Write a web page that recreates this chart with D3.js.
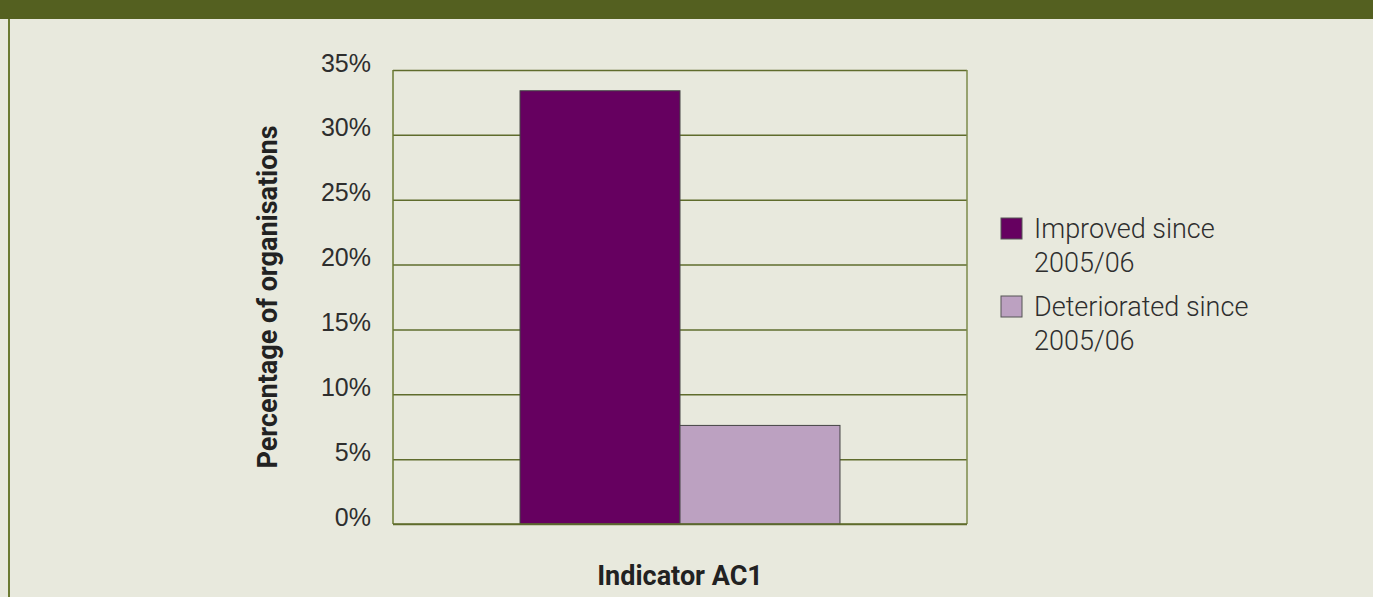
<!DOCTYPE html>
<html>
<head>
<meta charset="utf-8">
<script src="https://cdn.jsdelivr.net/npm/d3@7"></script>
<style>
  body { margin: 0; background: #e8e9dd; }
  svg { display: block; font-family: Roboto, sans-serif; }
</style>
</head>
<body>
<svg id="chart"></svg>
<script>
let categories = ['Indicator AC1']
let seriesNames = ['Improved since 2005/06', 'Deteriorated since 2005/06']
let legendLines = [['Improved since', '2005/06'], ['Deteriorated since', '2005/06']]
let seriesValues = [33.4, 7.6]
let yTicks = [0, 5, 10, 15, 20, 25, 30, 35]
let colors = ['#660060', '#bca1c1']

let width = 1373
let height = 597
let plotLeft = 393
let plotRight = 967
let plotTop = 70
let plotBottom = 524

let svg = d3.select('#chart')
  .attr('width', width)
  .attr('height', height)

// background, banner and left rule
svg.append('rect').attr('width', width).attr('height', height).attr('fill', '#e8e9dd')
svg.append('rect').attr('width', width).attr('height', 19).attr('fill', '#546020')
svg.append('line')
  .attr('x1', 9).attr('x2', 9).attr('y1', 19).attr('y2', height)
  .attr('stroke', '#6b7a32').attr('stroke-width', 2)

let yScale = d3.scaleLinear()
  .domain([0, 35])
  .range([plotBottom, plotTop])

let xScale = d3.scaleBand()
  .domain(categories)
  .range([plotLeft, plotRight])
  .paddingInner(0)
  .paddingOuter(0.397)

let seriesScale = d3.scaleBand()
  .domain(seriesNames)
  .range([0, xScale.bandwidth()])

// gridlines
let yAxis = d3.axisLeft(yScale)
  .tickValues(yTicks)
  .tickSize(-(plotRight - plotLeft))
  .tickFormat(d => d + '%')

let gAxis = svg.append('g')
  .attr('transform', 'translate(' + plotLeft + ',0)')
  .call(yAxis)

gAxis.select('.domain').remove()
gAxis.selectAll('.tick line')
  .attr('stroke', '#5f6c2c')
  .attr('stroke-width', 1.5)
gAxis.selectAll('.tick text')
  .attr('x', -22)
  .attr('dy', '0')
  .attr('y', 1)
  .attr('fill', '#2e2e2e')
  .style('font-size', '25px')
  .style('font-weight', 300)

// frame
svg.append('line')
  .attr('x1', plotLeft).attr('x2', plotLeft).attr('y1', plotTop).attr('y2', plotBottom)
  .attr('stroke', '#6b7a32').attr('stroke-width', 1.5)
svg.append('line')
  .attr('x1', plotRight).attr('x2', plotRight).attr('y1', plotTop).attr('y2', plotBottom)
  .attr('stroke', '#7d8a4a').attr('stroke-width', 1.5)

// bars
svg.selectAll('rect.bar')
  .data(seriesValues)
  .enter()
  .append('rect')
  .attr('class', 'bar')
  .attr('x', (d, i) => xScale(categories[0]) + seriesScale(seriesNames[i]))
  .attr('width', seriesScale.bandwidth())
  .attr('y', d => yScale(d))
  .attr('height', d => yScale(0) - yScale(d))
  .attr('fill', (d, i) => colors[i])
  .attr('stroke', '#444')
  .attr('stroke-width', 1)

// baseline
svg.append('line')
  .attr('x1', plotLeft).attr('x2', plotRight).attr('y1', plotBottom).attr('y2', plotBottom)
  .attr('stroke', '#5f6c2c').attr('stroke-width', 1.5)

// axis titles
svg.append('text')
  .attr('transform', 'translate(277,' + ((plotTop + plotBottom) / 2) + ') rotate(-90)')
  .attr('text-anchor', 'middle')
  .attr('fill', '#222')
  .style('font-size', '27px')
  .style('font-weight', 700)
  .text('Percentage of organisations')

svg.append('text')
  .attr('x', xScale(categories[0]) + xScale.bandwidth() / 2)
  .attr('y', 585)
  .attr('text-anchor', 'middle')
  .attr('fill', '#222')
  .style('font-size', '27px')
  .style('font-weight', 700)
  .text(categories[0])

// legend
let legend = svg.selectAll('g.legend')
  .data(seriesNames)
  .enter()
  .append('g')
  .attr('class', 'legend')
  .attr('transform', (d, i) => 'translate(1001,' + (218 + i * 78) + ')')

legend.append('rect')
  .attr('width', 21)
  .attr('height', 21)
  .attr('fill', (d, i) => colors[i])
  .attr('stroke', '#555')
  .attr('stroke-width', 1)

legend.append('text')
  .attr('fill', '#2e2e2e')
  .style('font-size', '27px')
  .style('font-weight', 300)
  .selectAll('tspan')
  .data((d, i) => legendLines[i])
  .enter()
  .append('tspan')
  .attr('x', 33)
  .attr('y', (d, j) => 20 + j * 34)
  .text(d => d)
</script>
</body>
</html>
